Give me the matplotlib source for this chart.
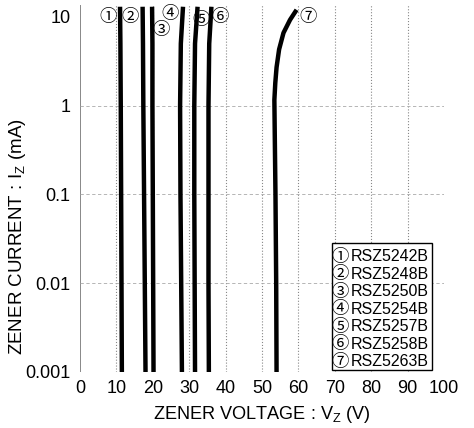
import matplotlib
matplotlib.use("Agg")
import matplotlib.pyplot as plt
from matplotlib.patches import Rectangle

plt.rcParams['font.family'] = ['Liberation Sans', 'DejaVu Sans', 'Noto Sans CJK JP']

# Data
devices = ["RSZ5242B", "RSZ5248B", "RSZ5250B", "RSZ5254B", "RSZ5257B", "RSZ5258B", "RSZ5263B"]
marks = ["①", "②", "③", "④", "⑤", "⑥", "⑦"]

i_common = [0.001, 0.01, 0.1, 1, 5, 13]
v_5242 = [11.5, 11.4, 11.3, 11.2, 11.1, 11.0]
v_5248 = [18.0, 17.8, 17.6, 17.4, 17.3, 17.2]
v_5250 = [20.2, 20.1, 20.0, 19.9, 19.9, 19.8]
v_5254 = [28.0, 27.8, 27.6, 27.5, 27.7, 28.3]
v_5257 = [31.6, 31.5, 31.4, 31.4, 31.6, 32.3]
v_5258 = [35.4, 35.3, 35.3, 35.3, 35.5, 36.1]
i_5263 = [0.001, 0.01, 0.1, 0.5, 1.16, 1.8, 2.7, 4.3, 6.6, 9.25, 12]
v_5263 = [54.0, 53.9, 53.7, 53.5, 53.4, 53.65, 54.0, 54.7, 55.9, 57.7, 59.5]

series = [(v_5242, i_common), (v_5248, i_common), (v_5250, i_common),
          (v_5254, i_common), (v_5257, i_common), (v_5258, i_common),
          (v_5263, i_5263)]

# label positions for circled numbers (voltage, current)
mark_v = [7.7, 13.7, 22.2, 24.8, 33.2, 38.6, 62.6]
mark_i = [10.0, 10.0, 7.1, 10.9, 9.2, 10.0, 10.0]

x_ticks = [0, 10, 20, 30, 40, 50, 60, 70, 80, 90, 100]
y_ticks = [0.001, 0.01, 0.1, 1, 10]
y_ticklabels = ["0.001", "0.01", "0.1", "1", "10"]

fig = plt.figure(figsize=(4.74, 4.28), dpi=100)
ax = fig.add_axes([80/474, 1-372/428, 364/474, 367/428])
ax.set_yscale('log')
ax.set_xlim(0, 100)
ax.set_ylim(0.001, 13.6)

# grid like the scanned figure
for x in x_ticks:
    edge = x in (0, 100)
    ax.axvline(x, color='#888888', lw=0.7 if edge else 0.8, ls='-' if edge else ':', zorder=0)
for y in [0.01, 0.1, 1]:
    ax.axhline(y, color='#aaaaaa', lw=0.6, ls=(0, (4, 3)), zorder=0)

for (v, i) in series:
    ax.plot(v, i, color='black', lw=3.2, solid_capstyle='butt', zorder=3)

for m, xv, yv in zip(marks, mark_v, mark_i):
    ax.text(xv, yv, m, fontsize=12.5, ha='center', va='center', color='black', zorder=4,
            family=['Noto Sans CJK JP', 'DejaVu Sans'])

for s in ax.spines.values():
    s.set_visible(False)

ax.set_xticks(x_ticks)
ax.set_xticklabels([str(x) for x in x_ticks])
ax.set_yticks(y_ticks)
ax.set_yticklabels(y_ticklabels)
ax.minorticks_off()
ax.tick_params(axis='both', length=0, labelsize=13, colors='black')
ax.tick_params(axis='x', pad=6)
ax.tick_params(axis='y', pad=7)

ax.set_xlabel("ZENER VOLTAGE : V$_\\mathregular{Z}$ (V)", fontsize=13.1, labelpad=5)
ax.set_ylabel("ZENER CURRENT : I$_\\mathregular{Z}$ (mA)", fontsize=13.5,
              fontfamily=['Liberation Sans Narrow', 'Liberation Sans', 'DejaVu Sans'])
ax.yaxis.set_label_coords(-0.143, 0.37)

# legend box (manual, to get large circled numbers)
box_x0, box_x1 = 0.692, 0.967
box_y0, box_y1 = 0.005, 0.351
ax.add_patch(Rectangle((box_x0, box_y0), box_x1 - box_x0, box_y1 - box_y0,
                       transform=ax.transAxes, facecolor='white', edgecolor='black',
                       lw=1.0, zorder=5))
row_top = 0.314
row_step = 0.0477
for k, (m, d) in enumerate(zip(marks, devices)):
    yk = row_top - k * row_step
    ax.text(0.714, yk, m, transform=ax.transAxes, fontsize=12.5, ha='center', va='center',
            family=['Noto Sans CJK JP', 'DejaVu Sans'], zorder=6)
    ax.text(0.743, yk, d, transform=ax.transAxes, fontsize=11.5, ha='left', va='center',
            zorder=6)

fig.savefig("out.png", dpi=100)
